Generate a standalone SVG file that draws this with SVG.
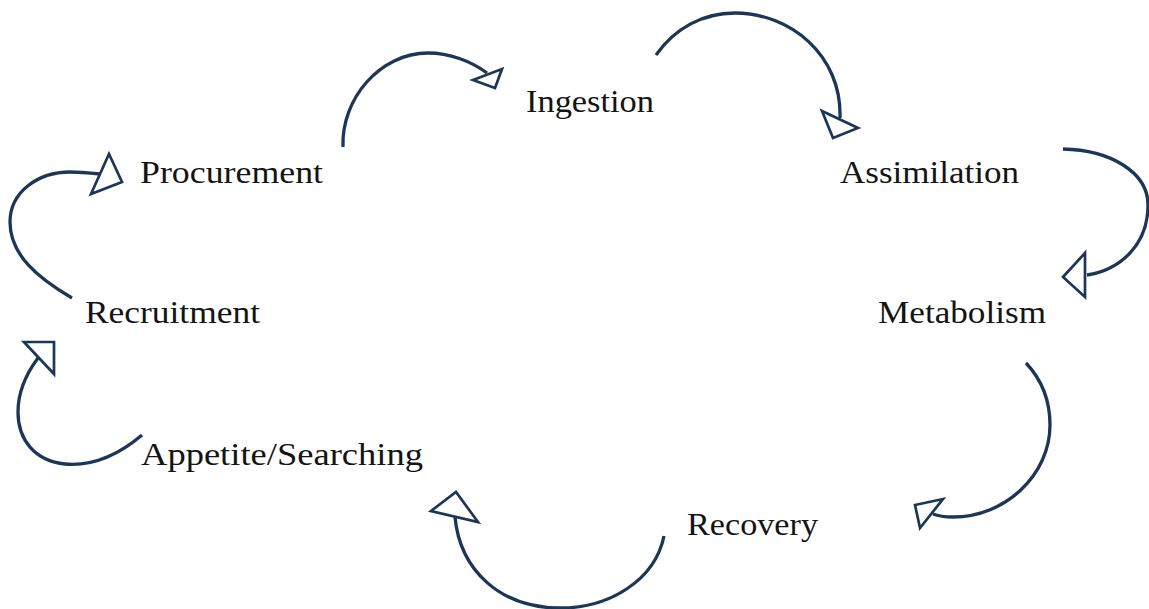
<svg xmlns="http://www.w3.org/2000/svg" width="1149" height="609" viewBox="0 0 1149 609">
<style>
.bg{fill:#ffffff}
.c{fill:none;stroke:#1c3658;stroke-width:3.3;stroke-linecap:butt}
.h{fill:#ffffff;stroke:#1c3658;stroke-width:2.7;stroke-linejoin:miter}
.t{font-family:"Liberation Serif","Times New Roman",serif;font-size:32px;fill:#141414}
</style>
<rect class="bg" x="0" y="0" width="1149" height="609"/>
<g id="connectors">
<path class="c" d="M343,147 C341,99 380,53 428,53 C449,53 471,61 487,73"/>
<polygon class="h" points="473,80 502,69 495,88"/>
<path class="c" d="M656,55 C675,28 703,13 735,13 C790,13 842,55 840,118"/>
<polygon class="h" points="822,111 858,128 833,138"/>
<path class="c" d="M1063,149 C1110,150 1148,172 1148,205 C1148,245 1120,270 1087,275"/>
<polygon class="h" points="1085,253 1063,277 1085,297"/>
<path class="c" d="M1026,363 C1042,380 1050,400 1050,425 C1050,475 1005,517 953,517 C945,517 938,516 933,514"/>
<polygon class="h" points="915,505 943,499 920,528"/>
<path class="c" d="M664,536 C655,580 610,608 560,608 C500,608 460,570 455,517"/>
<polygon class="h" points="431,511 456,492 478,522"/>
<path class="c" d="M142,435 C115,458 88,466 65,464 C35,461 18,440 18,412 C18,392 26,374 38,358"/>
<polygon class="h" points="24,342 54,342 54,374"/>
<path class="c" d="M72,298 C38,278 10,255 10,222 C10,192 38,172 70,172 C80,172 90,173 100,174"/>
<polygon class="h" points="91,194 109,154 122,182"/>
</g>
<g id="ingestion"><text class="t" x="526" y="112" textLength="128" lengthAdjust="spacingAndGlyphs">Ingestion</text></g>
<g id="procurement"><text class="t" x="140" y="183" textLength="183" lengthAdjust="spacingAndGlyphs">Procurement</text></g>
<g id="assimilation"><text class="t" x="840" y="183" textLength="179" lengthAdjust="spacingAndGlyphs">Assimilation</text></g>
<g id="recruitment"><text class="t" x="85" y="323" textLength="175" lengthAdjust="spacingAndGlyphs">Recruitment</text></g>
<g id="metabolism"><text class="t" x="878" y="323" textLength="168" lengthAdjust="spacingAndGlyphs">Metabolism</text></g>
<g id="appetite"><text class="t" x="141" y="465" textLength="282" lengthAdjust="spacingAndGlyphs">Appetite/Searching</text></g>
<g id="recovery"><text class="t" x="687" y="535" textLength="131" lengthAdjust="spacingAndGlyphs">Recovery</text></g>
</svg>
